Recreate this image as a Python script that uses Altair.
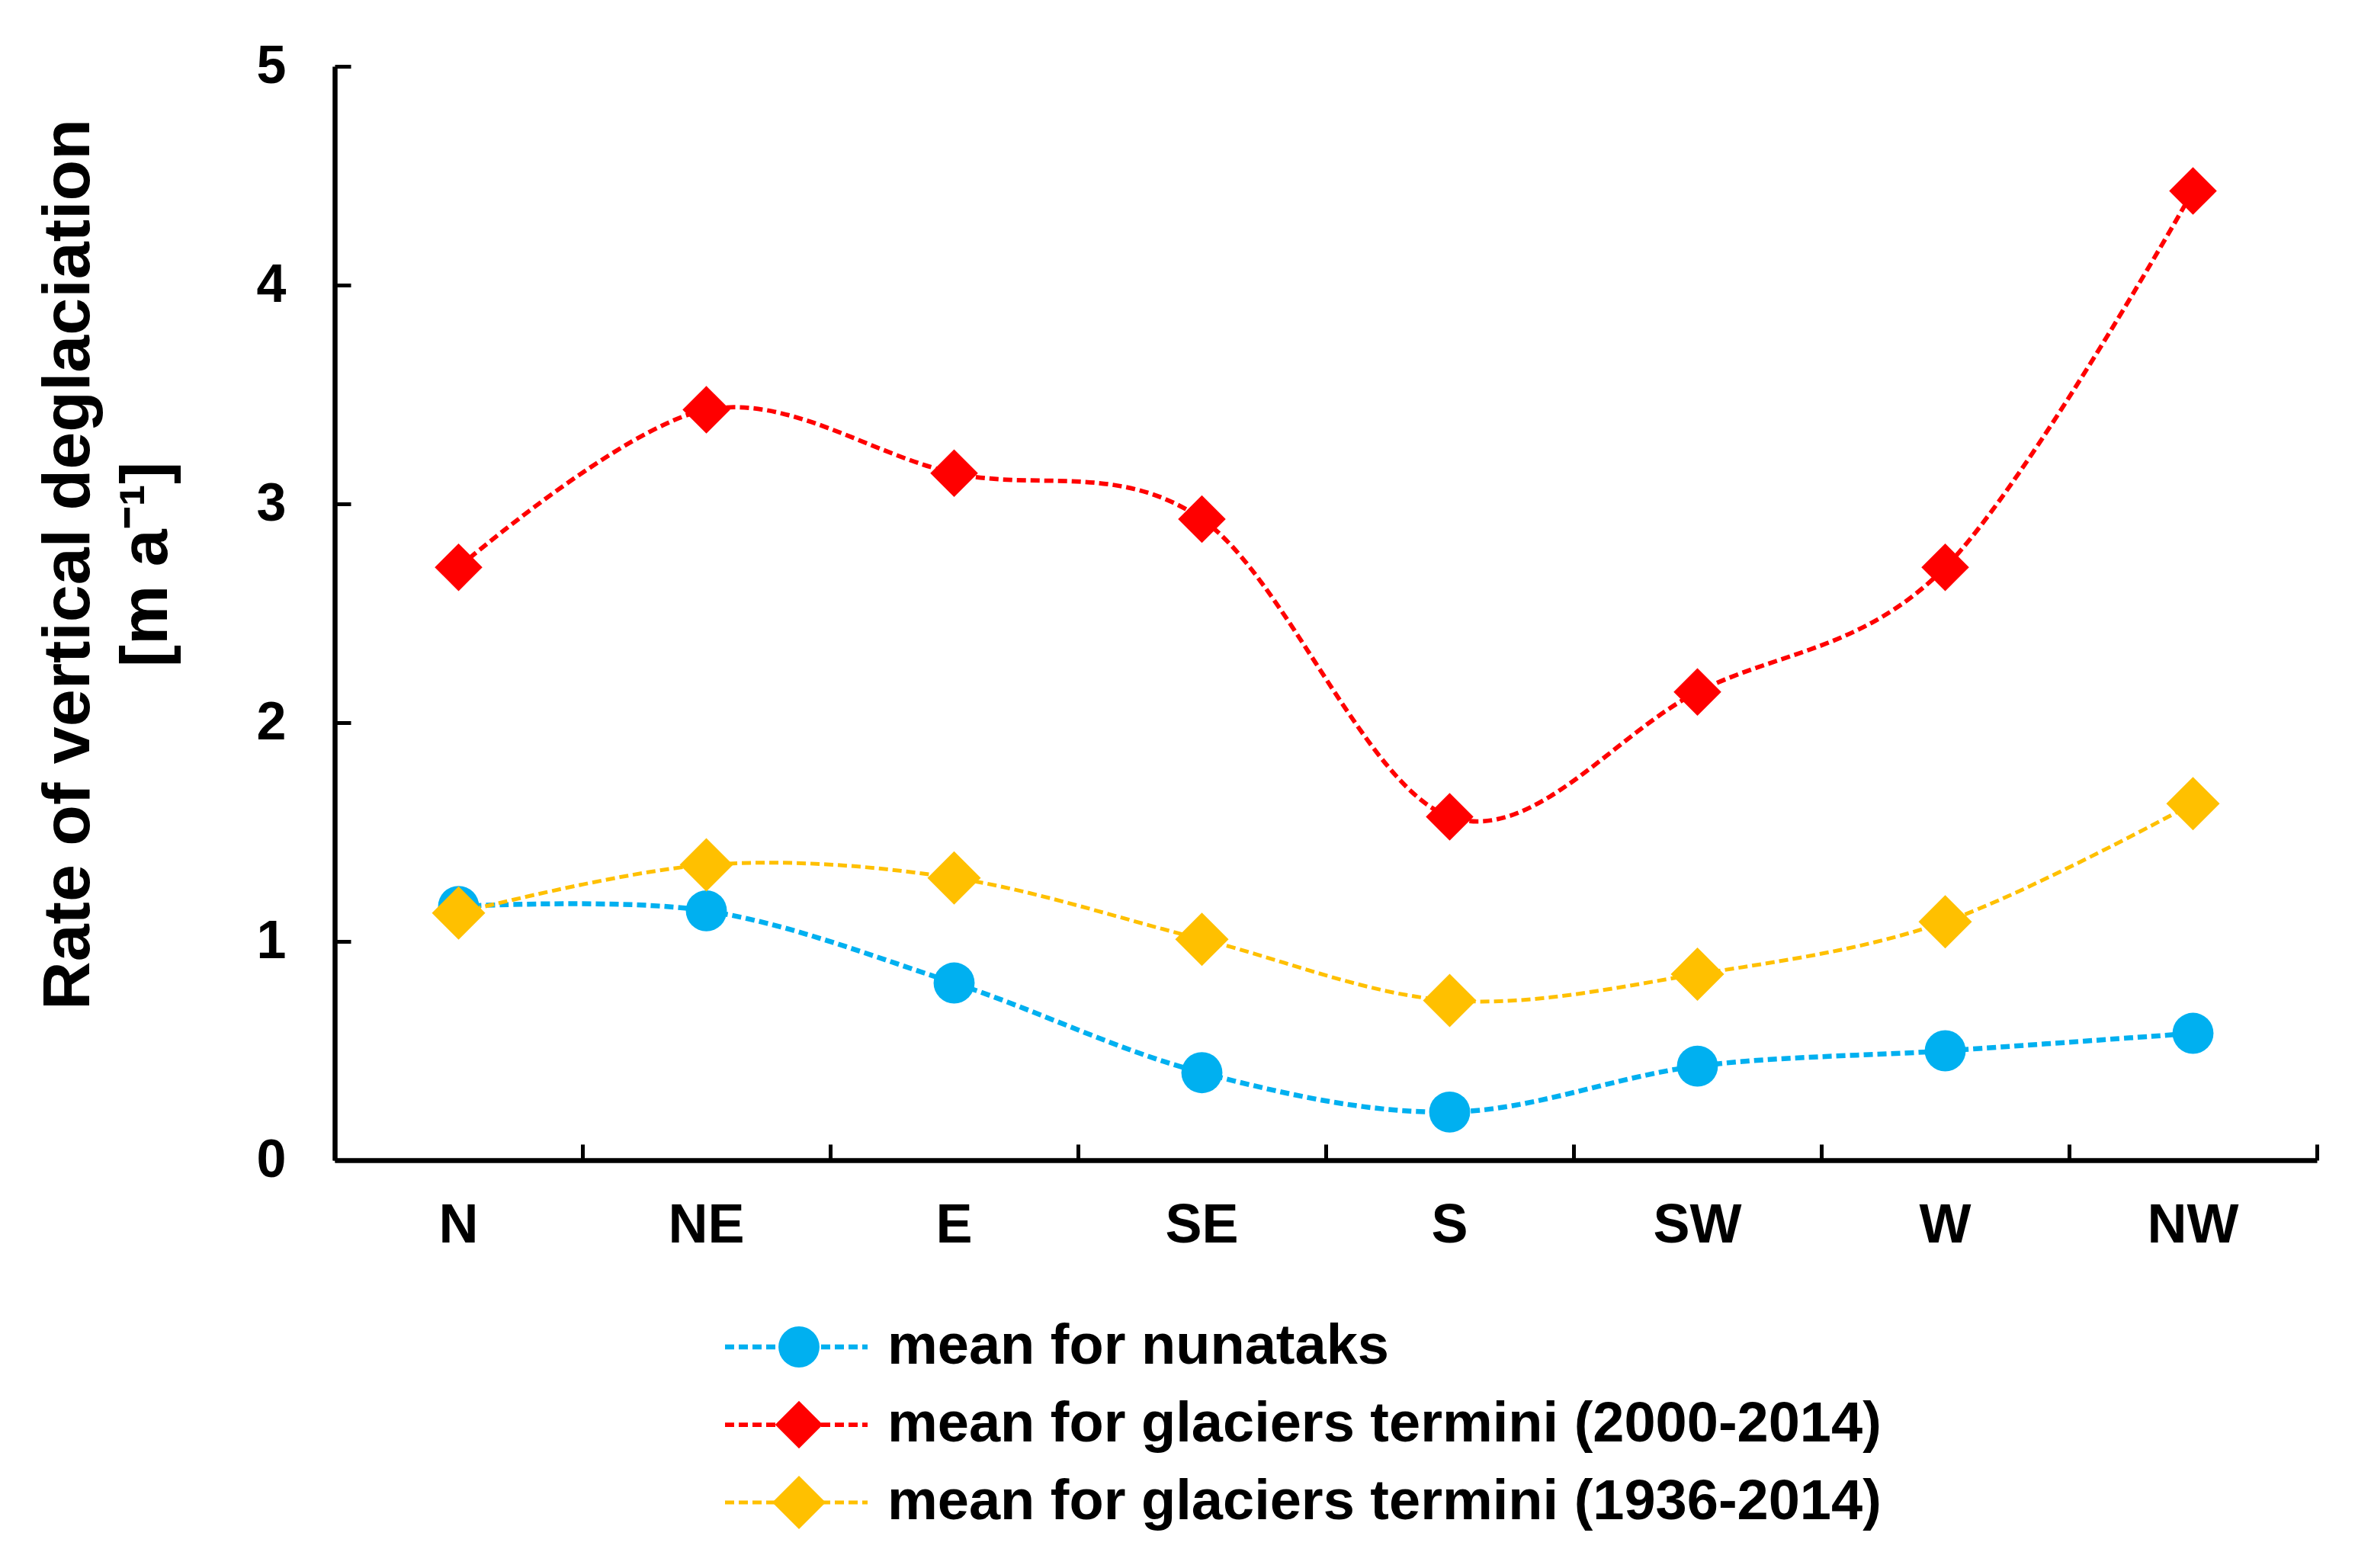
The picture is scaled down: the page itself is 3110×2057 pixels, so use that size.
import altair as alt
import pandas as pd

# ---- data ----
directions = ["N", "NE", "E", "SE", "S", "SW", "W", "NW"]
nunataks = [1.16, 1.14, 0.81, 0.40, 0.22, 0.43, 0.50, 0.58]
termini_2000_2014 = [2.71, 3.43, 3.14, 2.93, 1.57, 2.14, 2.71, 4.43]
termini_1936_2014 = [1.13, 1.35, 1.29, 1.01, 0.73, 0.85, 1.09, 1.63]
series_names = [
    "mean for nunataks",
    "mean for glaciers termini (2000-2014)",
    "mean for glaciers termini (1936-2014)",
]
series_colors = ["#00B0F0", "#FF0000", "#FFC000"]
series_shapes = ["circle", "diamond", "diamond"]
y_ticks = [0, 1, 2, 3, 4, 5]
y_title = ["Rate of vertical deglaciation", "[m a\u207b\u00b9]"]

rows = []
for name, vals in zip(series_names, [nunataks, termini_2000_2014, termini_1936_2014]):
    for d, v in zip(directions, vals):
        rows.append({"direction": d, "value": v, "series": name})
df = pd.DataFrame(rows)
leg = pd.DataFrame({"series": series_names})

# ---- layout ----
W, H = 2600, 1435
FONT = "Liberation Sans"

xscale = alt.Scale(type="band", domain=directions, paddingInner=0, paddingOuter=0)
yscale = alt.Scale(domain=[0, 5], nice=False, zero=True)
color = alt.Color("series:N", scale=alt.Scale(domain=series_names, range=series_colors), legend=None)
shape = alt.Shape("series:N", scale=alt.Scale(domain=series_names, range=series_shapes), legend=None)
size = alt.Size("series:N", scale=alt.Scale(domain=series_names, range=[2900, 4900, 4900]), legend=None)
swidth = alt.StrokeWidth("series:N", scale=alt.Scale(domain=series_names, range=[6.5, 5, 6.5]), legend=None)

lines = alt.Chart(df).mark_line(interpolate="cardinal", strokeDash=[12, 6]).encode(
    x=alt.X(
        "direction:N", scale=xscale, bandPosition=0.5,
        axis=alt.Axis(
            orient="bottom", title=None, labelAngle=0, labelFont=FONT, labelFontSize=72,
            labelFontWeight="bold", labelColor="black", labelPadding=50, tickSize=0,
            domainWidth=6.5, domainColor="black", grid=False,
        ),
    ),
    y=alt.Y(
        "value:Q", scale=yscale,
        axis=alt.Axis(
            orient="left", values=y_ticks, format="d", title=y_title,
            titleFont=FONT, titleFontSize=88, titleFontWeight="bold", titleColor="black",
            titleLineHeight=102, titleAngle=270, titleX=-323, titleY=653,
            titleBaseline="alphabetic", titleAlign="center",
            labelFont=FONT, labelFontSize=70, labelFontWeight="bold", labelColor="black",
            labelPadding=64, tickSize=0, domainWidth=6.5, domainColor="black", grid=False,
        ),
    ),
    color=color,
    strokeWidth=swidth,
    detail="series:N",
)

points = alt.Chart(df).mark_point(filled=True, opacity=1).encode(
    x=alt.X(
        "direction:N", scale=xscale, bandPosition=0.5,
        axis=alt.Axis(
            orient="top", offset=-H, labels=False, domain=False, title=None,
            tickSize=21, tickWidth=5, tickColor="black", tickBand="extent", grid=False,
        ),
    ),
    y=alt.Y(
        "value:Q", scale=yscale,
        axis=alt.Axis(
            orient="right", offset=-W, labels=False, domain=False, title=None,
            values=y_ticks, tickSize=21, tickWidth=5, tickColor="black", grid=False,
        ),
    ),
    color=color,
    shape=shape,
    size=size,
)

legy = alt.Y(
    "series:N",
    scale=alt.Scale(type="point", domain=series_names, range=[1680, 1884], padding=0),
    axis=None,
)
leg_lines = alt.Chart(leg).mark_rule(strokeDash=[12, 6]).encode(
    x=alt.value(512), x2=alt.value(699), y=legy, color=color, strokeWidth=swidth
)
leg_pts = alt.Chart(leg).mark_point(filled=True, opacity=1).encode(
    x=alt.value(609), y=legy, color=color, shape=shape, size=size
)
leg_text = alt.Chart(leg).mark_text(
    align="left", baseline="middle", font=FONT, fontSize=74, fontWeight="bold", color="black"
).encode(x=alt.value(725), y=legy, text="series:N")

chart = (
    alt.layer(lines, points, leg_lines, leg_pts, leg_text)
    .resolve_scale(y="independent")
    .properties(
        width=W, height=H,
        padding={"left": 38, "top": 44, "right": 0, "bottom": 0},
        background="white",
    )
    .configure_view(stroke=None)
    .configure_axis(grid=False)
)

chart.save("out.html", embed_options={"renderer": "svg", "actions": False})
